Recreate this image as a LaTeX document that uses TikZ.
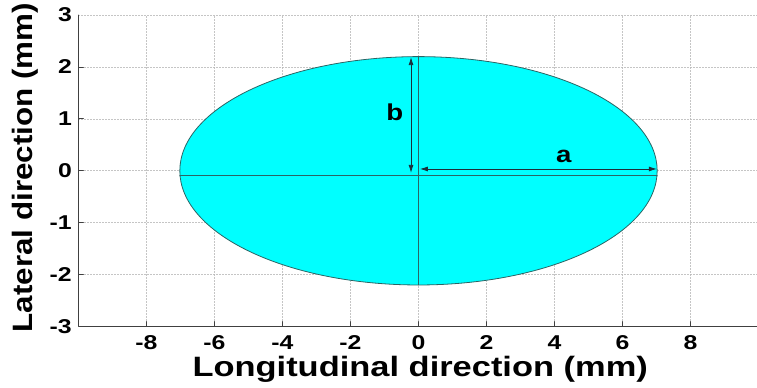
\documentclass[tikz,border=0pt]{standalone}
\usepackage{fontspec}
\setmainfont{Liberation Sans}
\usetikzlibrary{arrows.meta}
\definecolor{PlotCyan}{HTML}{00FFFF}
\definecolor{PlotEdge}{HTML}{2B6464}
\definecolor{PlotGrid}{HTML}{B8B8B8}
\definecolor{PlotAxis}{HTML}{404040}
\definecolor{PlotDim}{HTML}{1C2E3A}
\tikzset{
  gridline/.style={PlotGrid,line width=0.7pt,dash pattern=on 1pt off 2pt},
  ticklbl/.style={font=\fontsize{20}{22}\bfseries\selectfont,inner sep=0pt,xscale=1.24},
  axislbl/.style={font=\fontsize{28}{30}\bfseries\selectfont,inner sep=0pt},
  dimarrow/.style={PlotDim,line width=0.8pt,{Latex[length=8pt,width=5pt]}-{Latex[length=8pt,width=5pt]}}
}

\begin{document}
\begin{tikzpicture}[x=34pt,y=51.9pt,line cap=round,line join=round]
  \useasboundingbox (-12.309,-4.185) rectangle (9.956,3.291);
  \clip (-12.309,-4.185) rectangle (9.956,3.291);
  % grid
  \foreach \X in {-8,-6,...,8}{\draw[gridline] (\X,-3)--(\X,3);}
  \foreach \Y in {-2,...,3}{\draw[gridline] (-10,\Y)--(10,\Y);}
  % axes
  \draw[PlotAxis,line width=0.8pt] (-10,3)--(-10,-3)--(10,-3);
  \foreach \X in {-8,-6,...,8}{\draw[PlotAxis,line width=0.8pt] (\X,-3)--++(0,5pt);}
  \foreach \Y in {-2,...,2}{\draw[PlotAxis,line width=0.8pt] (-10,\Y)--++(5pt,0);}
  % ellipse
  \coordinate (O) at (0,0);
  \draw[PlotEdge,fill=PlotCyan,line width=0.8pt] (O) ellipse [x radius=7.02,y radius=2.2];
  \coordinate (L) at (-7.02,-0.08);\coordinate (R) at (7.02,-0.08);
  \coordinate (T) at (0,2.2);\coordinate (B) at (0,-2.2);
  \draw[PlotEdge,line width=0.8pt] (L)--(R);
  \draw[PlotEdge,line width=0.8pt] (T)--(B);
  % dimensions
  \coordinate (A0) at (0.04,0.035);\coordinate (A1) at (7.01,0.035);
  \coordinate (B0) at (-0.22,2.19);\coordinate (B1) at (-0.22,-0.04);
  \draw[dimarrow] (A0)--(A1);
  \draw[dimarrow] (B0)--(B1);
  \node[font=\fontsize{23}{25}\bfseries\selectfont,xscale=1.2] (alab) at (4.27,0.27) {a};
  \node[font=\fontsize{23}{25}\bfseries\selectfont,xscale=1.2] (blab) at (-0.7,1.12) {b};
  % tick labels
  \foreach \X in {-8,-6,...,8}{\node[ticklbl] (xt\X) at (\X,-3.31) {\X};}
  \foreach \Y in {-3,...,3}{\node[ticklbl,anchor=east] (yt\Y) at (-10.19,\Y) {\Y};}
  % axis labels
  \node[axislbl,anchor=base,xscale=1.23] (xlab) at (0.05,-3.97) {Longitudinal direction (mm)};
  \node[axislbl,anchor=base,rotate=90,xscale=1.12] (ylab) at (-11.34,0.06) {Lateral direction (mm)};
\end{tikzpicture}
\end{document}
